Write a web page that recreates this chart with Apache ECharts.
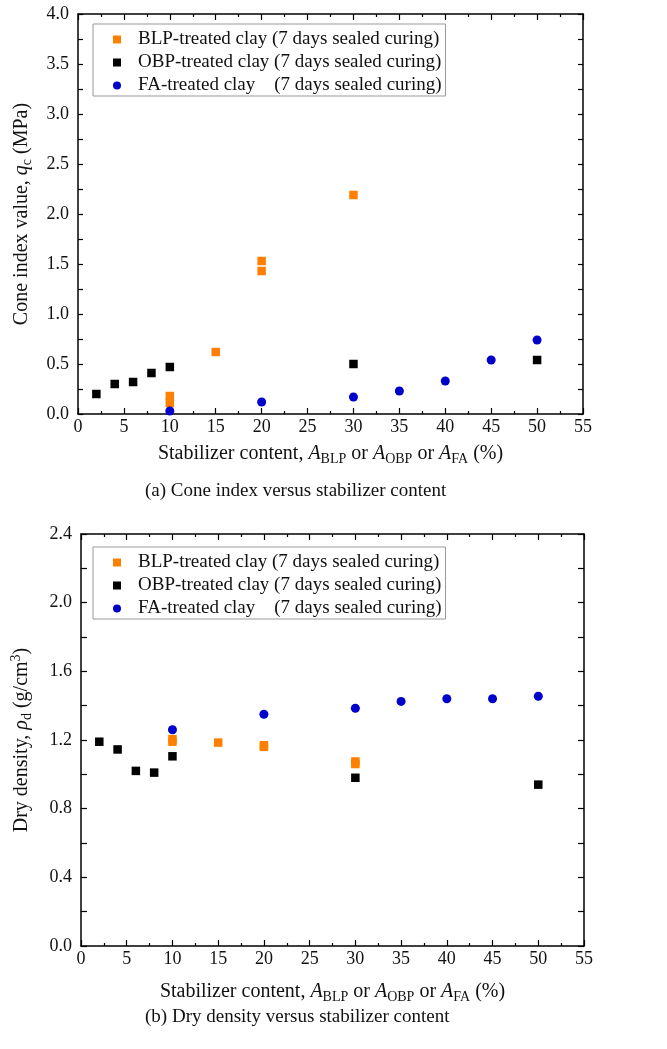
<!DOCTYPE html>
<html>
<head>
<meta charset="utf-8">
<script src="https://cdn.jsdelivr.net/npm/echarts@6/dist/echarts.min.js"></script>
<style>html,body{margin:0;padding:0;background:#fff;}#c{width:667px;height:1049px;}</style>
</head>
<body>
<div id="c"></div>
<script>
// ---- data (a) cone index ----
const seriesNames = ['BLP-treated clay (7 days sealed curing)', 'OBP-treated clay (7 days sealed curing)', 'FA-treated clay    (7 days sealed curing)'];
const blpXa = [10, 10, 15, 20, 20, 30];
const blpYa = [0.18, 0.11, 0.62, 1.53, 1.43, 2.19];
const obpXa = [2, 4, 6, 8, 10, 30, 50];
const obpYa = [0.20, 0.30, 0.32, 0.41, 0.47, 0.50, 0.54];
const faXa = [10, 20, 30, 35, 40, 45, 50];
const faYa = [0.03, 0.12, 0.17, 0.23, 0.33, 0.54, 0.74];
// ---- data (b) dry density ----
const blpXb = [10, 10, 15, 20, 20, 30, 30];
const blpYb = [1.205, 1.19, 1.185, 1.17, 1.16, 1.075, 1.06];
const obpXb = [2, 4, 6, 8, 10, 30, 50];
const obpYb = [1.19, 1.145, 1.02, 1.01, 1.105, 0.98, 0.94];
const faXb = [10, 20, 30, 35, 40, 45, 50];
const faYb = [1.26, 1.35, 1.385, 1.425, 1.44, 1.44, 1.455];
// ---- axes ----
const xTicks = [0, 55, 5];
const yTicksA = [0, 4, 0.5];
const yTicksB = [0, 2.4, 0.4];
const captionA = '(a) Cone index versus stabilizer content';
const captionB = '(b) Dry density versus stabilizer content';

const FONT = 'Liberation Serif';
const colors = ['#FF8000', '#000000', '#0000CC'];
const symbols = ['path://M0,0 L1,0 L1,1 L0,1 Z', 'path://M0,0 L1,0 L1,1 L0,1 Z', 'circle'];
const sizes = [8.5, 8.5, 9];

function zip(xs, ys) { return xs.map((x, i) => [x, ys[i]]); }

const lineStyle = { color: '#000', width: 1.5 };
const xNameRich = {
  n: { fontFamily: FONT, fontSize: 20, color: '#111' },
  i: { fontFamily: FONT, fontSize: 20, color: '#111', fontStyle: 'italic' },
  s: { fontFamily: FONT, fontSize: 14, color: '#111', padding: [10, 0, 0, 0] }
};
const xName = '{n|Stabilizer content, }{i|A}{s|BLP}{n| or }{i|A}{s|OBP}{n| or }{i|A}{s|FA}{n| (%)}';

function xAxes(grid, gap) {
  const base = {
    gridIndex: grid, type: 'value', min: xTicks[0], max: xTicks[1], interval: xTicks[2],
    axisLine: { show: true, lineStyle, onZero: false },
    splitLine: { show: false },
    minorTick: { show: true, splitNumber: 2, length: 3, lineStyle: { color: '#000', width: 1.2 } },
    axisTick: { show: true, inside: true, length: 6, lineStyle: { color: '#000', width: 1.2 } }
  };
  return [
    Object.assign({}, base, {
      position: 'bottom',
      axisLabel: { fontFamily: FONT, fontSize: 18, color: '#111', margin: 4 },
      name: xName, nameLocation: 'middle', nameGap: gap,
      nameTextStyle: { rich: xNameRich }
    }),
    Object.assign({}, base, { position: 'top', axisLabel: { show: false } })
  ];
}
function yAxes(grid, t, name, rich, gap, tickLen) {
  const base = {
    gridIndex: grid, type: 'value', min: t[0], max: t[1], interval: t[2],
    axisLine: { show: true, lineStyle, onZero: false },
    splitLine: { show: false },
    minorTick: { show: true, splitNumber: 2, length: tickLen, lineStyle: { color: '#000', width: 1.2 } },
    axisTick: { show: true, inside: true, length: tickLen, lineStyle: { color: '#000', width: 1.2 } }
  };
  return [
    Object.assign({}, base, {
      position: 'left',
      axisLabel: { fontFamily: FONT, fontSize: 18, color: '#111', margin: 9, formatter: v => v.toFixed(1) },
      name, nameLocation: 'middle', nameGap: gap, nameTextStyle: { rich }
    }),
    Object.assign({}, base, { position: 'right', axisLabel: { show: false } })
  ];
}

const yRichA = {
  n: { fontFamily: FONT, fontSize: 20, color: '#111' },
  i: { fontFamily: FONT, fontSize: 20, color: '#111', fontStyle: 'italic' },
  s: { fontFamily: FONT, fontSize: 14, color: '#111', padding: [10, 0, 0, 0] }
};
const yRichB = {
  n: { fontFamily: FONT, fontSize: 20, color: '#111' },
  i: { fontFamily: FONT, fontSize: 20, color: '#111', fontStyle: 'italic' },
  s: { fontFamily: FONT, fontSize: 14, color: '#111', padding: [10, 0, 0, 0] },
  u: { fontFamily: FONT, fontSize: 14, color: '#111', padding: [0, 0, 12, 0] }
};

function legend(top) {
  return {
    data: seriesNames.map((n, k) => ({ name: n, icon: symbols[k] })),
    orient: 'vertical', left: 93, top,
    itemWidth: 32, itemHeight: 8, itemGap: 4,
    padding: [6, 4, 1, 20],
    borderColor: '#999', borderWidth: 1, backgroundColor: '#fff',
    selectedMode: false,
    textStyle: { fontFamily: FONT, fontSize: 19, color: '#111' }
  };
}

function series(grid, sets) {
  return sets.map((d, k) => ({
    type: 'scatter', name: seriesNames[k],
    xAxisIndex: grid * 2, yAxisIndex: grid * 2,
    symbol: k === 2 ? 'circle' : 'rect', symbolSize: sizes[k],
    itemStyle: { color: colors[k], opacity: 1 },
    data: d, z: 2 + k
  }));
}

const option = {
  animation: false,
  backgroundColor: '#fff',
  grid: [
    { left: 78, top: 14, width: 505, height: 400 },
    { left: 81, top: 534, width: 503, height: 412 }
  ],
  xAxis: [].concat(xAxes(0, 28), xAxes(1, 34)),
  yAxis: [].concat(
    yAxes(0, yTicksA, '{n|Cone index value, }{i|q}{s|c}{n| (MPa)}', yRichA, 44, 5),
    yAxes(1, yTicksB, '{n|Dry density, }{i|ρ}{s|d}{n| (g/cm}{u|3}{n|)}', yRichB, 46, 6)
  ),
  legend: [legend(24), legend(547)],
  title: [
    { text: captionA, left: 145, top: 482, textStyle: { fontFamily: FONT, fontSize: 19, fontWeight: 'normal', color: '#111' }, padding: 0 },
    { text: captionB, left: 145, top: 1008, textStyle: { fontFamily: FONT, fontSize: 19, fontWeight: 'normal', color: '#111' }, padding: 0 }
  ],
  series: [].concat(
    series(0, [zip(blpXa, blpYa), zip(obpXa, obpYa), zip(faXa, faYa)]),
    series(1, [zip(blpXb, blpYb), zip(obpXb, obpYb), zip(faXb, faYb)])
  )
};

const chart = echarts.init(document.getElementById('c'), null, { renderer: 'canvas' });
chart.setOption(option);
</script>
</body>
</html>
